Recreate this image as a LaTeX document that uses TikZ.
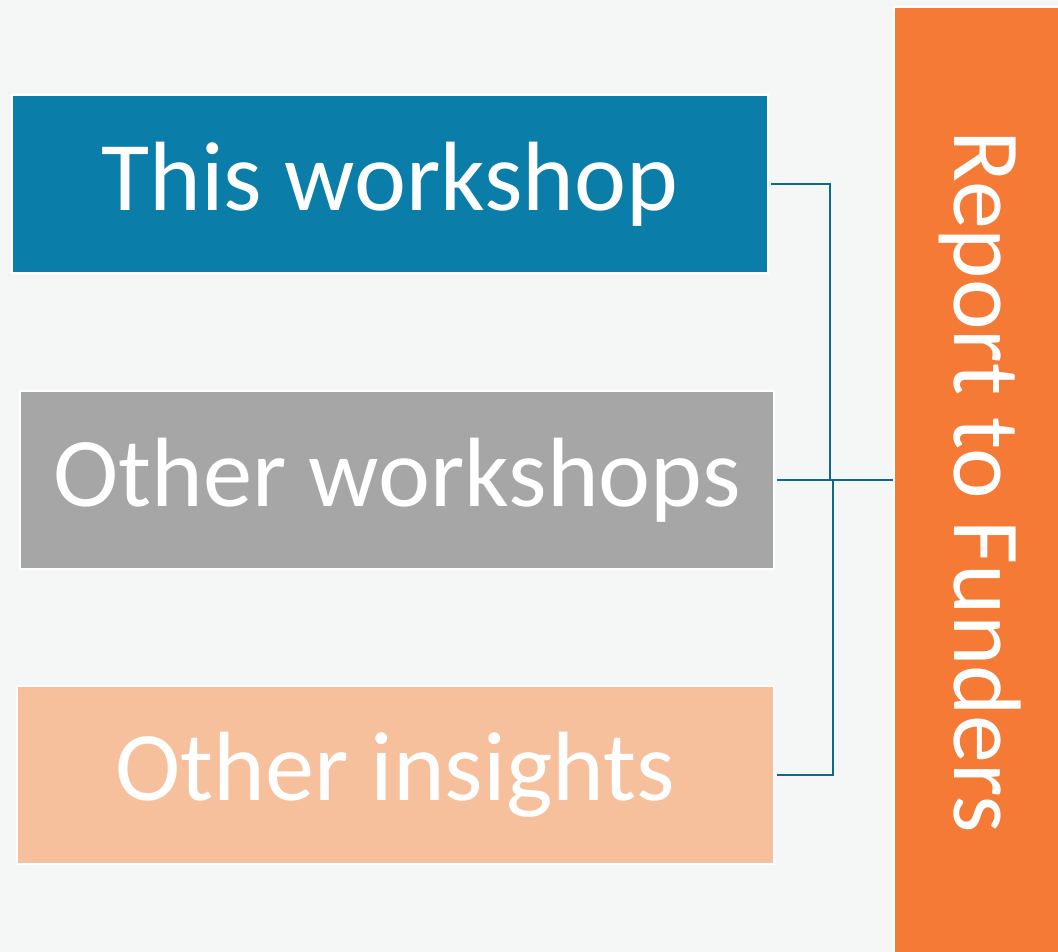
\documentclass[tikz,border=0pt]{standalone}
\usepackage{fontspec}
\setmainfont{Carlito}
\definecolor{pagebg}{HTML}{F5F7F6}
\definecolor{wsblue}{HTML}{0A7EA8}
\definecolor{wsgray}{HTML}{A6A6A6}
\definecolor{wspeach}{HTML}{F6C09C}
\definecolor{wsorange}{HTML}{F47A36}
\definecolor{wsline}{HTML}{0E6A8C}
\tikzset{
  srcbox/.style={draw=white, line width=2pt, text=white, inner sep=0pt,
    minimum height=178pt, font=\fontsize{98.5}{108}\selectfont},
  link/.style={draw=wsline, line width=2.8pt}
}
\begin{document}
\begin{tikzpicture}[x=1pt,y=-1pt]
      \fill[pagebg] (0,0) rectangle (1058,952);
      \useasboundingbox (0,0) rectangle (1058,952);
      \draw
        (390,184) node[srcbox, fill=wsblue, minimum width=756pt] (this){This workshop}
        (397,480) node[srcbox, fill=wsgray, minimum width=754pt] (other){Other workshops}
        (395,775) node[srcbox, fill=wspeach, minimum width=757pt] (insights){Other insights};
      \begin{scope}
        \clip (0,0) rectangle (1058,952);
        \node[draw=white, line width=2pt, fill=wsorange, text=white, inner sep=0pt,
          minimum width=950pt, minimum height=173pt, rotate=-90,
          font=\fontsize{96}{106}\selectfont] (report) at (980,482) {Report to Funders};
      \end{scope}
      \coordinate (j1) at (830,480);
      \coordinate (j2) at (833,481);
      \begin{scope}[link]
        \draw (this.east) ++(2,0) -| (j1);
        \draw (other.east) ++(2,0) -- (other.east -| report.south);
        \draw (insights.east) ++(2,0) -| (j2);
      \end{scope}
    \end{tikzpicture}
\end{document}
